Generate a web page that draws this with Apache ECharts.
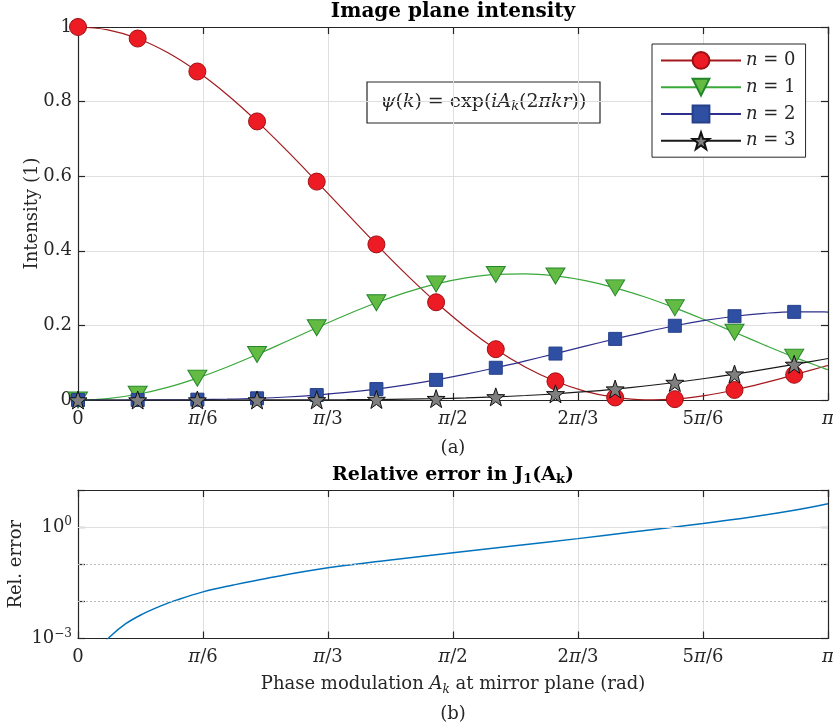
<!DOCTYPE html>
<html>
<head>
<meta charset="utf-8">
<script src="https://cdn.jsdelivr.net/npm/echarts@6/dist/echarts.min.js"></script>
<style>
  html, body { margin: 0; padding: 0; background: #fff; }
  #chart { width: 833px; height: 727px; }
</style>
</head>
<body>
<div id="chart"></div>
<script>
// Phase modulation samples (rad); a marker sits on every other sample (0.25 rad steps)
const phase = [0, 0.125, 0.25, 0.375, 0.5, 0.625, 0.75, 0.875, 1.0, 1.125, 1.25, 1.375, 1.5,
  1.625, 1.75, 1.875, 2.0, 2.125, 2.25, 2.375, 2.5, 2.625, 2.75, 2.875, 3.0, 3.125, Math.PI];

// Image plane intensity of the diffraction orders n = 0..3
const intensityN0 = [1, 0.9922, 0.9691, 0.9315, 0.8807, 0.8185, 0.7469, 0.6684, 0.5855, 0.5009,
  0.4172, 0.3368, 0.2620, 0.1946, 0.1362, 0.0878, 0.0501, 0.0232, 0.0068, 0.0002, 0.0023,
  0.0118, 0.0269, 0.0461, 0.0676, 0.0897, 0.0926];
const intensityN1 = [0, 0.0039, 0.0154, 0.0339, 0.0587, 0.0885, 0.1220, 0.1576, 0.1936, 0.2286,
  0.2607, 0.2887, 0.3113, 0.3275, 0.3366, 0.3383, 0.3326, 0.3199, 0.3007, 0.2761, 0.2471,
  0.2151, 0.1815, 0.1476, 0.1150, 0.0848, 0.0810];
const intensityN2 = [0, 0.0000, 0.0001, 0.0003, 0.0009, 0.0022, 0.0045, 0.0081, 0.0132, 0.0202,
  0.0293, 0.0405, 0.0539, 0.0693, 0.0864, 0.1050, 0.1245, 0.1443, 0.1638, 0.1822, 0.1990,
  0.2133, 0.2246, 0.2324, 0.2363, 0.2360, 0.2356];
const intensityN3 = [0, 0, 0, 0, 0, 0, 0.0001, 0.0002, 0.0004, 0.0008, 0.0014, 0.0023, 0.0037,
  0.0057, 0.0084, 0.0120, 0.0166, 0.0223, 0.0293, 0.0375, 0.0469, 0.0576, 0.0694, 0.0821,
  0.0955, 0.1093, 0.1112];
const orderNames = ['n = 0', 'n = 1', 'n = 2', 'n = 3'];
const markerLastPhase = 3.0;

// Relative error of J1(A_k) versus phase modulation
const errPhase = [0.10, 0.13, 0.20, 0.272, 0.35, 0.4115, 0.5236, 0.65, 0.788, 1.047, 1.30,
  1.571, 1.83, 2.094, 2.313, 2.618, 2.828, 3.0, Math.PI];
const relError = [0.00062, 0.00106, 0.0025, 0.0046, 0.0077, 0.0108, 0.018, 0.0275, 0.0415,
  0.080, 0.128, 0.205, 0.315, 0.49, 0.73, 1.25, 1.90, 2.85, 4.25];

// Tick labels in multiples of pi/6
const piTickLabels = ['0', 'π/6', 'π/3', 'π/2', '2π/3', '5π/6', 'π'];

const FONT = 'DejaVu Serif';
const FS = 18;
const INK = '#262626';
const GRID_C = '#dfdfdf';

const richBase = {
  n: { fontFamily: FONT, fontSize: FS, color: INK },
  i: { fontFamily: FONT, fontSize: FS, color: INK, fontStyle: 'italic' }
};

function mathRich(s, italicChars) {
  const re = new RegExp('([' + italicChars + '])');
  return s.split(re).filter(p => p.length).map(p =>
    italicChars.indexOf(p) >= 0 ? '{i|' + p + '}' : '{n|' + p + '}').join('');
}

function piLabel(v) {
  const k = Math.round(v / (Math.PI / 6));
  return mathRich(piTickLabels[k] || '', 'π');
}

function withMarkers(ys) {
  return phase.map((x, i) => {
    const item = { value: [x, ys[i]] };
    if (i % 2 !== 0 || x > markerLastPhase + 1e-9) item.symbol = 'none';
    return item;
  });
}

const starPath = 'path://M0,-10L2.351,-3.236L9.511,-3.09L3.804,1.236L5.878,8.09L0,4L-5.878,8.09L-3.804,1.236L-9.511,-3.09L-2.351,-3.236Z';
const triDownPath = 'path://M0,0L20,0L10,17Z';

const seriesStyles = [
  { symbol: 'circle', size: 17, line: '#a3191c', fill: '#ed1c24', border: '#9e1013' },
  { symbol: triDownPath, size: [19, 16], line: '#3aa83a', fill: '#64bb44', border: '#22862a' },
  { symbol: 'rect', size: 13, line: '#2e2e8c', fill: '#2f4fa2', border: '#27408a' },
  { symbol: starPath, size: 18, line: '#1a1a1a', fill: '#7f7f7f', border: '#111111' }
];
const intensities = [intensityN0, intensityN1, intensityN2, intensityN3];

const lineSeries = intensities.map((ys, k) => ({
  name: orderNames[k],
  type: 'line',
  xAxisIndex: 0,
  yAxisIndex: 0,
  data: withMarkers(ys),
  smooth: 0.4,
  showAllSymbol: true,
  symbol: seriesStyles[k].symbol,
  symbolSize: seriesStyles[k].size,
  lineStyle: { color: seriesStyles[k].line, width: 1.2 },
  itemStyle: { color: seriesStyles[k].fill, borderColor: seriesStyles[k].border, borderWidth: 1 },
  emphasis: { disabled: true },
  z: 2 + k
}));

const axisLineStyle = { color: INK, width: 1.2 };
function ticks() {
  return { show: true, inside: true, length: 7, lineStyle: { color: INK, width: 1.2 } };
}

function piXAxis(grid, position, labels, name) {
  return {
    type: 'value', gridIndex: grid, position: position,
    min: 0, max: Math.PI, interval: Math.PI / 6,
    axisLine: { show: true, onZero: false, lineStyle: axisLineStyle },
    axisTick: ticks(),
    axisLabel: labels ? { show: true, margin: 10, formatter: piLabel, rich: richBase } : { show: false },
    splitLine: { show: position === 'bottom', lineStyle: { color: GRID_C, width: 1 } },
    name: name || '',
    nameLocation: 'middle',
    nameGap: 35,
    nameMoveOverlap: false,
    nameTextStyle: { fontFamily: FONT, fontSize: FS, color: INK, rich: Object.assign({
      s: { fontFamily: FONT, fontSize: 12, color: INK, fontStyle: 'italic', padding: [10, 0, 0, 0] }
    }, richBase) }
  };
}

function yFrame(grid, position, type) {
  const ax = {
    type: type, gridIndex: grid, position: position,
    axisLine: { show: true, onZero: false, lineStyle: axisLineStyle },
    axisTick: ticks(),
    axisLabel: { show: false },
    splitLine: { show: false }
  };
  if (type === 'log') { ax.logBase = 10; ax.min = 0.001; ax.max = 10; }
  else { ax.min = 0; ax.max = 1; ax.interval = 0.2; }
  return ax;
}

const yIntensity = Object.assign(yFrame(0, 'left', 'value'), {
  axisLabel: { margin: 6, fontFamily: FONT, fontSize: FS, color: INK },
  splitLine: { show: true, lineStyle: { color: GRID_C, width: 1 } },
  name: 'Intensity (1)', nameLocation: 'middle', nameGap: 37, nameMoveOverlap: false,
  nameTextStyle: { fontFamily: FONT, fontSize: FS, color: INK }
});

const yError = Object.assign(yFrame(1, 'left', 'log'), {
  axisLabel: {
    margin: 6,
    formatter: function (v) {
      const e = Math.round(Math.log10(v));
      if (e === 0) return '{b|10}{s|0}';
      if (e === -3) return '{b|10}{s|−3}';
      return '';
    },
    rich: {
      b: { fontFamily: FONT, fontSize: FS, color: INK },
      s: { fontFamily: FONT, fontSize: 12, color: INK, padding: [0, 0, 10, 0] }
    }
  },
  name: 'Rel. error', nameLocation: 'middle', nameGap: 53, nameMoveOverlap: false,
  nameTextStyle: { fontFamily: FONT, fontSize: FS, color: INK }
});

const option = {
  animation: false,
  backgroundColor: '#ffffff',
  grid: [
    { left: 78, top: 27, right: 5, height: 373, outerBoundsMode: 'none', containLabel: false },
    { left: 78, top: 490, right: 5, height: 148.5, outerBoundsMode: 'none', containLabel: false }
  ],
  xAxis: [
    piXAxis(0, 'bottom', true),
    piXAxis(0, 'top', false),
    piXAxis(1, 'bottom', true, '{n|Phase modulation }{i|A}{s|k}{n| at mirror plane (rad)}'),
    piXAxis(1, 'top', false)
  ],
  yAxis: [
    yIntensity,
    yFrame(0, 'right', 'value'),
    yError,
    yFrame(1, 'right', 'log')
  ],
  legend: {
    orient: 'vertical', left: 652, top: 44,
    itemWidth: 80, itemHeight: 21, itemGap: 8,
    padding: [7, 10, 7, 8],
    backgroundColor: '#ffffff', borderColor: INK, borderWidth: 1, borderRadius: 0,
    data: orderNames,
    selectedMode: false,
    formatter: name => mathRich(name, 'n'),
    textStyle: { rich: richBase }
  },
  series: lineSeries.concat([
    {
      name: 'Relative error',
      type: 'line',
      xAxisIndex: 2,
      yAxisIndex: 2,
      data: errPhase.map((x, i) => [x, relError[i]]),
      smooth: 0.4,
      symbol: 'none',
      clip: true,
      lineStyle: { color: '#0072bd', width: 1.5 },
      emphasis: { disabled: true },
      markLine: {
        silent: true,
        symbol: 'none',
        label: { show: false },
        data: [
          { yAxis: 1, lineStyle: { color: GRID_C, width: 1, type: 'solid' } },
          { yAxis: 0.1, lineStyle: { color: '#bcbcbc', width: 1, type: [2, 2] } },
          { yAxis: 0.01, lineStyle: { color: '#bcbcbc', width: 1, type: [2, 2] } }
        ]
      },
      z: 2
    }
  ]),
  graphic: [
    {
      type: 'text', x: 453, y: 12, z: 100,
      style: { text: 'Image plane intensity', fontFamily: FONT, fontSize: 20, fontWeight: 'bold',
        fill: '#000', align: 'center', verticalAlign: 'middle' }
    },
    {
      type: 'text', x: 453, y: 475, z: 100,
      style: {
        text: '{b|Relative error in J}{s|1}{b|(A}{s|k}{b|)}',
        align: 'center', verticalAlign: 'middle',
        rich: {
          b: { fontFamily: FONT, fontSize: 19, fontWeight: 'bold', fill: '#000' },
          s: { fontFamily: FONT, fontSize: 13, fontWeight: 'bold', fill: '#000', padding: [9, 0, 0, 0] }
        }
      }
    },
    {
      type: 'text', x: 453, y: 448, z: 100,
      style: { text: '(a)', fontFamily: FONT, fontSize: FS, fill: INK, align: 'center', verticalAlign: 'middle' }
    },
    {
      type: 'text', x: 453, y: 714, z: 100,
      style: { text: '(b)', fontFamily: FONT, fontSize: FS, fill: INK, align: 'center', verticalAlign: 'middle' }
    },
    {
      type: 'group', z: 100,
      children: [
        {
          type: 'rect', shape: { x: 367, y: 82, width: 233, height: 41 },
          style: { fill: '#ffffff', stroke: INK, lineWidth: 1.2 }
        },
        {
          type: 'text', x: 483.5, y: 102.5,
          style: {
            text: '{i|ψ}{n|(}{i|k}{n|) = exp(}{i|iA}{s|k}{n|(2}{i|πkr}{n|))}',
            align: 'center', verticalAlign: 'middle',
            rich: {
              s: { fontFamily: FONT, fontSize: 13, fontStyle: 'italic', fill: INK, padding: [9, 0, 0, 0] },
              n: { fontFamily: FONT, fontSize: 19, fill: INK },
              i: { fontFamily: FONT, fontSize: 19, fill: INK, fontStyle: 'italic' }
            }
          }
        }
      ]
    }
  ]
};

const chart = echarts.init(document.getElementById('chart'), null, { renderer: 'canvas' });
chart.setOption(option);
</script>
</body>
</html>
